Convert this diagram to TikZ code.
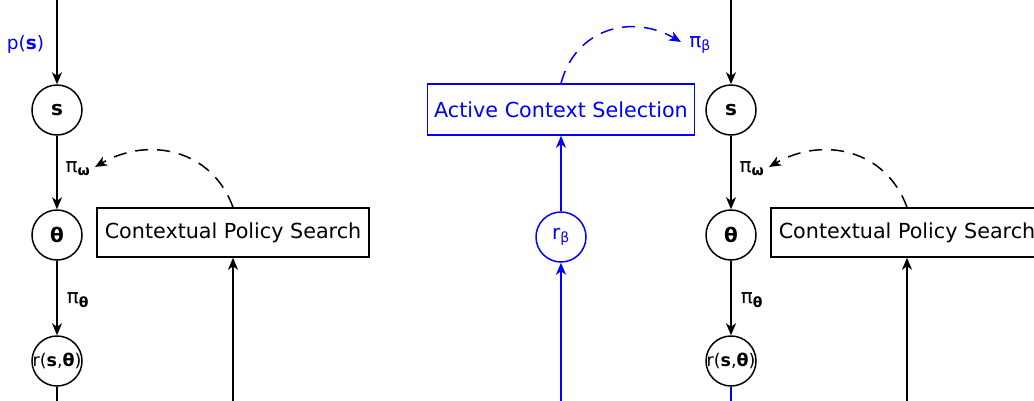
\documentclass[tikz,border=0pt]{standalone}
\usepackage{fontspec}
\setmainfont{DejaVu Sans}
\usetikzlibrary{arrows.meta}
\definecolor{ctxblue}{RGB}{0,0,255}
% text of fixed zero width, so a wide label keeps its circle small
\newcommand\tightlabel[1]{\makebox[0pt]{#1}}

\begin{document}
\begin{tikzpicture}[x=1pt,y=1pt,
  lbl/.style={inner sep=0, font=\fontsize{20}{24}\selectfont},
  var/.style={circle, draw, line width=1.5pt, minimum size=50, inner sep=0,
    font=\fontsize{20}{24}\selectfont},
  reward/.style={var, font=\fontsize{17.5}{21}\selectfont},
  box/.style={draw, line width=1.5pt, minimum width=272, minimum height=49,
    inner sep=0, font=\fontsize{20.7}{24}\selectfont},
  link/.style={line width=1.5pt, -{Stealth[length=12,width=10,inset=3.5]}},
  plain/.style={line width=1.5pt},
  loop/.style={link, dash pattern=on 13 off 9}]
\useasboundingbox (0,0) rectangle (1034,-400);
\clip (0,0) rectangle (1034,-400);

% left column: context, parameters, reward
\node[var] (s1) at (57,-110) {\textbf{s}};
\node[var] (t1) at (57,-235) {\textbf{θ}};
\node[reward] (r1) at (57,-361) {\tightlabel{r(\textbf{s},\textbf{θ})}};
\coordinate (in1) at (57,5);
\coordinate (out1) at (57,-410);
\node[box] (cps1) at (233,-232.5) {Contextual Policy Search};
\coordinate (fb1) at (233,-410);
\node[lbl, ctxblue, font=\fontsize{18.5}{22}\selectfont] (ps) at (25.5,-44) {p(\textbf{s})};
\node[lbl] (pw1) at (78,-169) {π\textsubscript{\textbf{ω}}};
\node[lbl] (pt1) at (78,-300) {π\textsubscript{\textbf{θ}}};
\coordinate (pw1tip) at (95,-167);

% middle: active context selection
\node[box, ctxblue, minimum width=267, minimum height=51] (acs) at (561,-109.5) {Active Context Selection};
\node[var, ctxblue] (rb) at (561,-237) {r\textsubscript{β}};
\coordinate (fb2) at (561,-410);
\node[lbl, ctxblue] (pb) at (700,-45) {π\textsubscript{β}};
\coordinate (pbtip) at (681,-42);

% right column
\node[var] (s2) at (731,-110) {\textbf{s}};
\node[var] (t2) at (731,-235) {\textbf{θ}};
\node[reward] (r2) at (731,-361) {\tightlabel{r(\textbf{s},\textbf{θ})}};
\coordinate (in2) at (731,5);
\coordinate (out2) at (731,-410);
\node[box] (cps2) at (907,-232.5) {Contextual Policy Search};
\coordinate (fb3) at (907,-410);
\node[lbl] (pw2) at (752,-169) {π\textsubscript{\textbf{ω}}};
\node[lbl] (pt2) at (752,-300) {π\textsubscript{\textbf{θ}}};
\coordinate (pw2tip) at (769,-167);

% connectors, left
\draw[link] (in1) -- (s1);
\draw[link] (s1) -- (t1);
\draw[link] (t1) -- (r1);
\draw[plain] (r1) -- (out1);
\draw[link] (fb1) -- (cps1);
\draw[loop] (cps1.north) to[out=110,in=30,looseness=1.1] (pw1tip);

% connectors, middle
\draw[link, ctxblue] (fb2) -- (rb);
\draw[link, ctxblue] (rb) -- (acs);
\draw[loop, ctxblue] (acs.north) to[out=75,in=150,looseness=1.15] (pbtip);

% connectors, right
\draw[link] (in2) -- (s2);
\draw[link] (s2) -- (t2);
\draw[link] (t2) -- (r2);
\draw[plain, ctxblue] (r2) -- (out2);
\draw[link] (fb3) -- (cps2);
\draw[loop] (cps2.north) to[out=110,in=30,looseness=1.1] (pw2tip);
\end{tikzpicture}
\end{document}
